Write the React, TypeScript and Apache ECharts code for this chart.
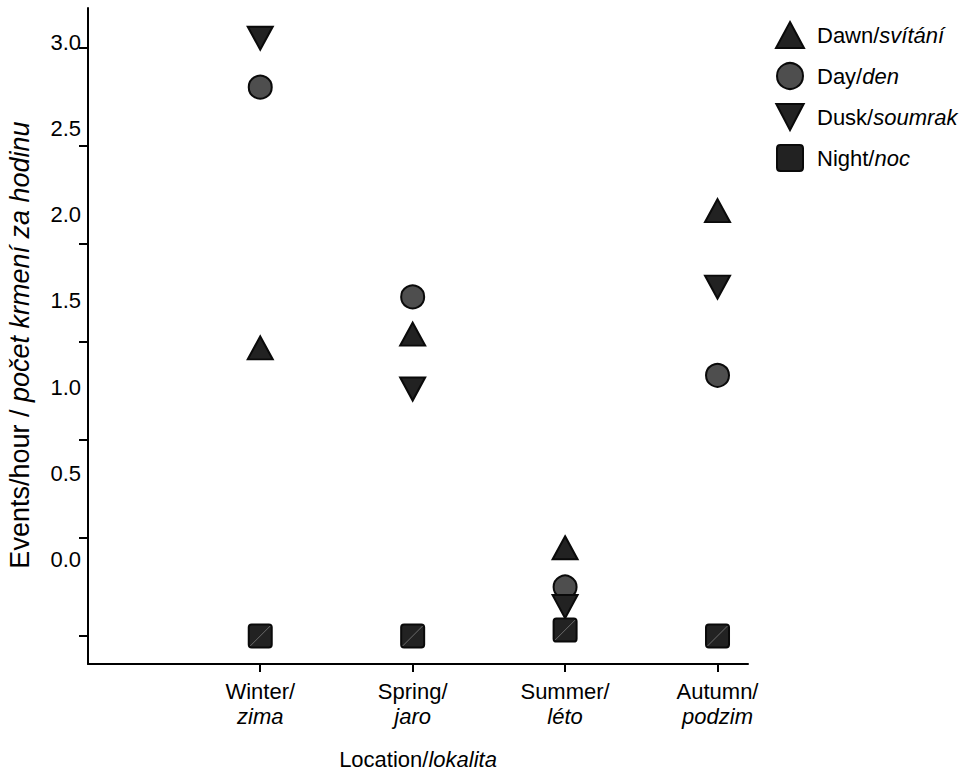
import { useEffect, useRef } from 'react';
import * as echarts from 'echarts';

const FONT = '"Liberation Sans", Arial, Helvetica, sans-serif';

const categoriesEn = ['Winter', 'Spring', 'Summer', 'Autumn'];
const categoriesCz = ['zima', 'jaro', 'léto', 'podzim'];
const categoryX = [1, 2, 3, 4];

const dawn = [1.47, 1.54, 0.45, 2.17];
const day = [2.8, 1.73, 0.25, 1.33];
const dusk = [3.05, 1.26, 0.15, 1.78];
const night = [0.0, 0.0, 0.03, 0.0];

const yTickValues = [0, 0.5, 1, 1.5, 2, 2.5, 3];
const yTickLabels = ['0.0', '0.5', '1.0', '1.5', '2.0', '2.5', '3.0'];

const seriesNames = ['Dawn/svítání', 'Day/den', 'Dusk/soumrak', 'Night/noc'];

const toPoints = (vals: number[]) => categoryX.map((x, i) => [x, vals[i]]);

const DOWN_TRI = 'path://M0,0L20,0L10,19Z';
const ROUND_SQ = 'path://M3,0H21Q24,0 24,3V21Q24,24 21,24H3Q0,24 0,21V3Q0,0 3,0Z';

export default function App() {
  const ref = useRef<HTMLDivElement>(null);
  useEffect(() => {
    const chart = echarts.init(ref.current!, null, { renderer: 'svg' });
    const markStyle = { color: '#222222', borderColor: '#0a0a0a', borderWidth: 2, opacity: 1 };
    const option: any = {
      animation: false,
      backgroundColor: '#ffffff',
      textStyle: { fontFamily: FONT, color: '#000' },
      grid: { left: 88, right: 221, top: 8, bottom: 110, containLabel: false, outerBoundsMode: 'none' },
      legend: {
        data: seriesNames,
        orient: 'vertical',
        left: 770,
        top: 16,
        itemWidth: 28,
        itemHeight: 26,
        itemGap: 13,
        formatter: (name: string) => {
          const [en, cz] = name.split('/');
          return `${en}/{i|${cz}}`;
        },
        textStyle: {
          fontFamily: FONT,
          fontSize: 22,
          color: '#000',
          padding: [0, 0, 0, 8],
          rich: { i: { fontStyle: 'italic', fontFamily: FONT, fontSize: 22, color: '#000' } },
        },
      },
      xAxis: {
        type: 'value',
        min: -0.13,
        max: 4.2,
        name: 'Location/{i|lokalita}',
        nameLocation: 'middle',
        nameGap: 84,
        nameTextStyle: {
          fontFamily: FONT,
          fontSize: 22,
          color: '#000',
          rich: { i: { fontStyle: 'italic', fontFamily: FONT, fontSize: 22, color: '#000' } },
        },
        axisLine: { show: true, onZero: false, lineStyle: { color: '#000', width: 2 } },
        axisTick: { show: true, length: 8, customValues: categoryX, lineStyle: { color: '#000', width: 2 } },
        axisLabel: {
          customValues: categoryX,
          margin: 15,
          fontFamily: FONT,
          fontSize: 22,
          lineHeight: 25,
          color: '#000',
          formatter: (v: number) => {
            const i = Math.round(v) - 1;
            return `${categoriesEn[i]}/\n{i|${categoriesCz[i]}}`;
          },
          rich: { i: { fontStyle: 'italic', fontFamily: FONT, fontSize: 22, lineHeight: 25, color: '#000' } },
        },
        splitLine: { show: false },
      },
      yAxis: [
        {
          type: 'value',
          min: -0.143,
          max: 3.204,
          position: 'left',
          name: 'Events/hour / {i|počet krmení za hodinu}',
          nameLocation: 'middle',
          nameGap: 55,
          nameTextStyle: {
            fontFamily: FONT,
            fontSize: 27,
            color: '#000',
            padding: [0, 18, 0, 0],
            rich: { i: { fontStyle: 'italic', fontFamily: FONT, fontSize: 27, color: '#000' } },
          },
          axisLine: { show: true, onZero: false, lineStyle: { color: '#000', width: 2 } },
          axisTick: { show: true, length: 9, customValues: yTickValues, lineStyle: { color: '#000', width: 2 } },
          axisLabel: { show: false },
          splitLine: { show: false },
        },
        {
          type: 'value',
          min: -0.61,
          max: 3.203,
          position: 'left',
          axisLine: { show: false },
          axisTick: { show: false },
          splitLine: { show: false },
          axisLabel: {
            customValues: yTickValues,
            margin: 7,
            fontFamily: FONT,
            fontSize: 22,
            color: '#000',
            formatter: (v: number) => yTickLabels[Math.round(v * 2)],
          },
        },
      ],
      series: [
        {
          name: seriesNames[0],
          type: 'scatter',
          data: toPoints(dawn),
          symbol: 'triangle',
          symbolSize: [25, 23],
          itemStyle: markStyle,
        },
        {
          name: seriesNames[1],
          type: 'scatter',
          data: toPoints(day),
          symbol: 'circle',
          symbolSize: 23,
          itemStyle: { color: '#4e4e4e', borderColor: '#0a0a0a', borderWidth: 2, opacity: 1 },
        },
        {
          name: seriesNames[2],
          type: 'scatter',
          data: toPoints(dusk),
          symbol: DOWN_TRI,
          symbolSize: [25, 23],
          itemStyle: markStyle,
        },
        {
          name: seriesNames[3],
          type: 'scatter',
          data: toPoints(night),
          symbol: ROUND_SQ,
          symbolSize: 23,
          itemStyle: markStyle,
        },
        {
          name: 'night-texture',
          type: 'scatter',
          silent: true,
          data: toPoints(night),
          symbol: 'path://M0,20L20,0',
          symbolSize: 20,
          itemStyle: { color: 'none', borderColor: '#8a8a8a', borderWidth: 0.7, opacity: 1 },
        },
      ],
    };
    chart.setOption(option);
    return () => chart.dispose();
  }, []);
  return (
    <div
      ref={ref}
      style={{ position: 'fixed', left: 0, top: 0, width: 969, height: 774, background: '#fff' }}
    />
  );
}
